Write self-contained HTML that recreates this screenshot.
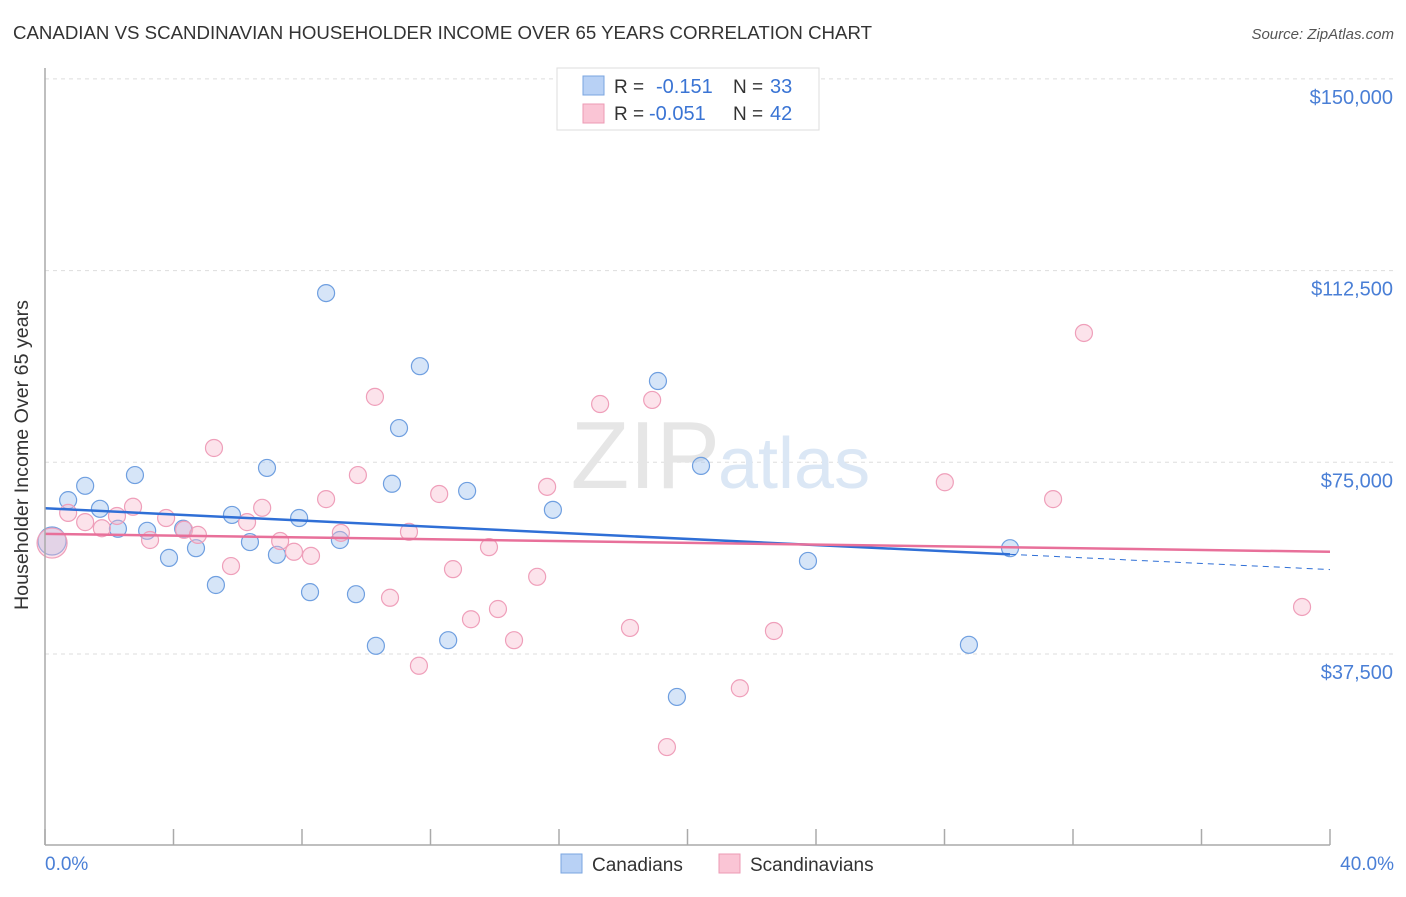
<!DOCTYPE html>
<html><head><meta charset="utf-8"><style>
body{margin:0;background:#fff;font-family:"Liberation Sans",sans-serif;}
svg text{font-family:"Liberation Sans",sans-serif;}
</style></head><body>
<svg width="1406" height="892" viewBox="0 0 1406 892">
<text x="13" y="39" font-size="18" fill="#333" textLength="859" lengthAdjust="spacingAndGlyphs">CANADIAN VS SCANDINAVIAN HOUSEHOLDER INCOME OVER 65 YEARS CORRELATION CHART</text>
<text x="1394" y="39" font-size="15" fill="#555" text-anchor="end" font-style="italic">Source: ZipAtlas.com</text>
<g id="grid"></g>
<text x="720" y="488" font-size="96" fill="#e6e6e6" text-anchor="end" font-family="Liberation Serif">ZIP</text>
<text x="718" y="488" font-size="72" fill="#dbe7f5">atlas</text>
<g id="pts"></g>
<g id="lines"></g>
<line x1="45" y1="68" x2="45" y2="845" stroke="#aaa" stroke-width="1.5"/>
<line x1="45" y1="845" x2="1330" y2="845" stroke="#aaa" stroke-width="1.5"/>
<text x="28" y="455" font-size="19" fill="#333" text-anchor="middle" transform="rotate(-90 28 455)" textLength="310" lengthAdjust="spacingAndGlyphs">Householder Income Over 65 years</text>
<text x="45" y="870" font-size="19" fill="#4a7fd6">0.0%</text>
<text x="1394" y="870" font-size="19" fill="#4a7fd6" text-anchor="end">40.0%</text>
<g>
<rect x="557" y="68" width="262" height="62" fill="#fff" stroke="#ddd"/>
<rect x="583" y="76" width="21" height="19" fill="#b8d1f5" stroke="#7aa5e0"/>
<rect x="583" y="104" width="21" height="19" fill="#fac5d5" stroke="#ec9ab4"/>
<text x="614" y="93" font-size="19" fill="#333">R = </text><text x="656" y="93" font-size="20" fill="#3a74d4">-0.151</text>
<text x="733" y="93" font-size="19" fill="#333">N = </text><text x="770" y="93" font-size="20" fill="#3a74d4">33</text>
<text x="614" y="120" font-size="19" fill="#333">R = </text><text x="649" y="120" font-size="20" fill="#3a74d4">-0.051</text>
<text x="733" y="120" font-size="19" fill="#333">N = </text><text x="770" y="120" font-size="20" fill="#3a74d4">42</text>
</g>
<g>
<rect x="561" y="854" width="21" height="19" fill="#b8d1f5" stroke="#7aa5e0"/>
<text x="592" y="871" font-size="19" fill="#333">Canadians</text>
<rect x="719" y="854" width="21" height="19" fill="#fac5d5" stroke="#ec9ab4"/>
<text x="750" y="871" font-size="19" fill="#333">Scandinavians</text>
</g>
</svg>
<script>
const yTicks=[37500,75000,112500,150000];
const yTickLabels=["$37,500","$75,000","$112,500","$150,000"];
const xTicks=[0,4,8,12,16,20,24,28,32,36,40];
const canX=[0.22,0.72,1.25,1.71,2.27,2.80,3.18,3.86,4.30,4.70,5.32,5.82,6.38,6.91,7.22,7.91,8.25,8.75,9.18,9.68,10.30,10.80,11.02,11.67,12.55,13.14,15.81,19.08,19.67,20.42,23.75,28.76,30.04];
const canY=[59600,67600,70400,65900,62000,72500,61600,56300,62000,58200,51000,64700,59400,73900,56900,64100,49600,108100,59800,49200,39100,70800,81700,93800,40200,69400,65700,90900,29100,74300,55700,39300,58200];
const scaX=[0.22,0.72,1.25,1.77,2.24,2.74,3.27,3.77,4.33,4.76,5.26,5.79,6.29,6.76,7.32,7.75,8.28,8.75,9.21,9.74,10.27,10.74,11.33,11.64,12.27,12.70,13.26,13.82,14.10,14.60,15.32,15.63,17.28,18.21,18.90,19.36,21.63,22.69,28.01,31.38,32.34,39.13];
const scaY=[59200,65100,63300,62100,64500,66300,59800,64100,61800,60800,77800,54700,63300,66100,59600,57500,56700,67800,61200,72500,87800,48500,61400,35200,68800,54100,44300,58400,46300,40200,52600,70200,86400,42600,87200,19300,30800,42000,71100,67800,100300,46700];
const canTrend=[66000,57000];
const canTrendX=[0,30.04,40];
const scaTrend=[61000,57500];
const X=p=>45+p/40*1285, Y=v=>654-(v-37500)/37500*191.7;
const NS="http://www.w3.org/2000/svg";
function mk(t,a,p){const e=document.createElementNS(NS,t);for(const k in a)e.setAttribute(k,a[k]);p.appendChild(e);return e;}
const grid=document.getElementById('grid');
yTicks.forEach((v,i)=>{
 const l=mk('line',{x1:45,x2:1394,y1:Y(v),y2:Y(v),stroke:'#ddd','stroke-dasharray':'4,4'},grid);
 
 
 const t=mk('text',{x:1393,y:Y(v)+25,'font-size':20,fill:'#4a7fd6','text-anchor':'end'},grid);
 t.textContent=yTickLabels[i];
 
 
});
xTicks.forEach(p=>{
 const l=mk('line',{x1:X(p),x2:X(p),y1:829,y2:845,stroke:'#aaa','stroke-width':1.5},grid);
 
 
});
const pts=document.getElementById('pts');
canX.forEach((x,i)=>{
 const c=mk('circle',{cx:X(x),cy:Y(canY[i]),r:i==0?14:8.5,fill:'rgba(165,198,240,0.45)',stroke:'#6f9fe0','stroke-width':1.2},pts);
 
 
});
scaX.forEach((x,i)=>{
 const c=mk('circle',{cx:X(x),cy:Y(scaY[i]),r:i==0?15:8.5,fill:'rgba(248,185,205,0.4)',stroke:'#ef9fba','stroke-width':1.2},pts);
 
 
});
const ln=document.getElementById('lines');
const slope=(canTrend[1]-canTrend[0])/(canTrendX[1]-canTrendX[0]);
let a=mk('line',{x1:X(0),y1:Y(canTrend[0]),x2:X(canTrendX[1]),y2:Y(canTrend[1]),stroke:'#2f6fd6','stroke-width':2.5},ln);


a=mk('line',{x1:X(canTrendX[1]),y1:Y(canTrend[1]),x2:X(canTrendX[2]),y2:Y(canTrend[0]+slope*canTrendX[2]),stroke:'#2f6fd6','stroke-width':1,'stroke-dasharray':'6,5'},ln);


a=mk('line',{x1:X(0),y1:Y(scaTrend[0]),x2:X(40),y2:Y(scaTrend[1]),stroke:'#e8709a','stroke-width':2.5},ln);


</script>
</body></html>
